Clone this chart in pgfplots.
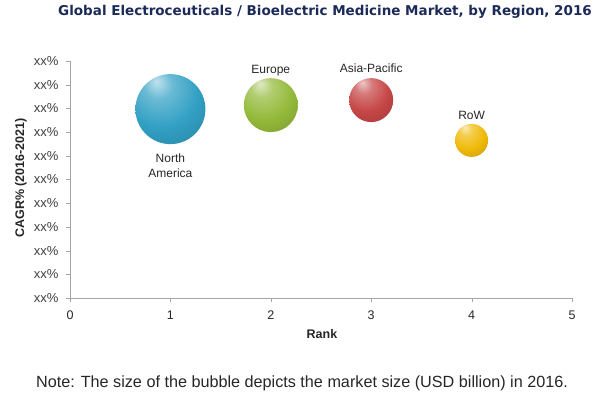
\documentclass[border=0pt]{standalone}
\usepackage{fontspec}
\setmainfont{Liberation Sans}
\newfontfamily\titlefont{DejaVu Sans}
\usepackage{pgfplots}
\pgfplotsset{compat=1.18}
\definecolor{titlenavy}{RGB}{28,42,88}
\definecolor{nacol}{RGB}{50,160,196}
\definecolor{eucol}{RGB}{148,186,58}
\definecolor{apcol}{RGB}{198,70,70}
\definecolor{rowcol}{RGB}{240,186,10}
\definecolor{axgray}{RGB}{165,165,165}
\newcommand{\myball}[2]{%
  \pgfdeclareradialshading{#1}{\pgfqpoint{-10bp}{20bp}}{%
    color(0bp)=(#2!30!white); color(10bp)=(#2!72!white);
    color(26bp)=(#2); color(46bp)=(#2!82!black); color(62bp)=(#2!66!black); color(76bp)=(#2!78!black)}%
  \pgfdeclareplotmark{#1}{\pgfpathcircle{\pgfpointorigin}{\pgfplotmarksize}\pgfshadepath{#1}{0}\pgfusepath{}}%
}
\myball{naball}{nacol}
\myball{euball}{eucol}
\myball{apball}{apcol}
\myball{rowball}{rowcol}
\begin{document}
\begin{tikzpicture}
\path[use as bounding box] (0,0) rectangle (600pt,-396pt);
\begin{axis}[
  at={(70pt,-298pt)}, anchor=south west,
  scale only axis, width=502pt, height=237pt,
  xmin=0, xmax=5, ymin=0, ymax=10,
  axis lines*=left,
  axis line style={draw=axgray},
  xtick={0,1,2,3,4,5}, xticklabels={0,1,2,3,4,5},
  ytick={0,1,2,3,4,5,6,7,8,9,10},
  yticklabels={xx\%,xx\%,xx\%,xx\%,xx\%,xx\%,xx\%,xx\%,xx\%,xx\%,xx\%},
  tick align=outside, major tick length=4pt,
  tick style={draw=axgray},
  xticklabel style={font=\fontsize{12.5}{14}\selectfont, text=black!85, yshift=-5pt},
  yticklabel style={font=\fontsize{13}{14}\selectfont, text=black!75, xshift=-4pt},
  clip=false,
]
\addplot[only marks, mark=naball, mark size=35pt] coordinates {(1,7.97)};
\addplot[only marks, mark=euball, mark size=27pt] coordinates {(2,8.14)};
\addplot[only marks, mark=apball, mark size=22pt] coordinates {(3,8.35)};
\addplot[only marks, mark=rowball, mark size=16.5pt] coordinates {(4,6.65)};
\node[font=\fontsize{12}{15}\selectfont, align=center, text=black!85] at (axis cs:1,5.6) {North\\America};
\node[font=\fontsize{12}{14}\selectfont, text=black!85] at (axis cs:2,9.6) {Europe};
\node[font=\fontsize{12}{14}\selectfont, text=black!85] at (axis cs:3,9.7) {Asia-Pacific};
\node[font=\fontsize{12}{14}\selectfont, text=black!85] at (axis cs:4,7.72) {RoW};
\end{axis}
\node[font=\titlefont\bfseries\fontsize{13.5}{16}\selectfont, text=titlenavy] at (325pt,-12pt) {Global Electroceuticals / Bioelectric Medicine Market, by Region, 2016};
\node[font=\bfseries\fontsize{12.5}{14}\selectfont, rotate=90, text=black!85] at (21pt,-178pt) {CAGR\% (2016-2021)};
\node[font=\bfseries\fontsize{12.5}{14}\selectfont, text=black!85] at (322pt,-334pt) {Rank};
\node[font=\fontsize{16.2}{18}\selectfont, text=black!85] at (302pt,-383pt) {Note: The size of the bubble depicts the market size (USD billion) in 2016.};
\end{tikzpicture}
\end{document}
